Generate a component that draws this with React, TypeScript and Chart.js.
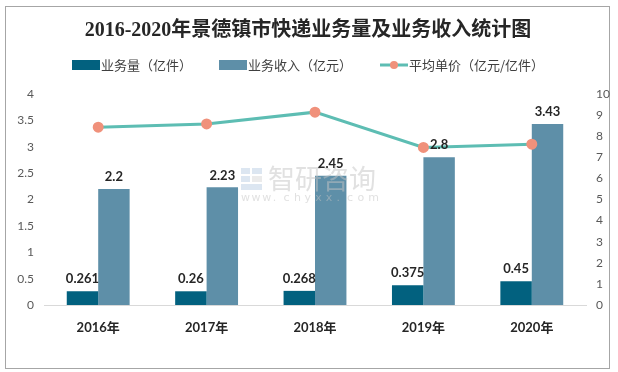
import React, { useEffect, useRef } from 'react';
import { Chart, registerables } from 'chart.js';

Chart.register(...registerables);

const titleText = '2016-2020年景德镇市快递业务量及业务收入统计图';
const categories = ['2016年', '2017年', '2018年', '2019年', '2020年'];
const volume = [0.261, 0.26, 0.268, 0.375, 0.45];
const revenue = [2.2, 2.23, 2.45, 2.8, 3.43];
const unitPrice = [8.43, 8.58, 9.14, 7.47, 7.62];
const seriesNames = ['业务量（亿件）', '业务收入（亿元）', '平均单价（亿元/亿件）'];
const leftAxisMax = 4;
const leftAxisStep = 0.5;
const rightAxisMax = 10;
const rightAxisStep = 1;

const DARK = '#02617f';
const LIGHT = '#5e8fa8';
const LINE = '#5dbdb3';
const POINT = '#f0917b';
const CJK = "'Noto Sans CJK SC', 'Noto Sans', sans-serif";

const decorPlugin = {
  id: 'decor',
  beforeDraw(chart: any) {
    const ctx = chart.ctx;
    ctx.save();
    ctx.fillStyle = '#ffffff';
    ctx.fillRect(0, 0, chart.width, chart.height);
    ctx.strokeStyle = '#a6a6a6';
    ctx.lineWidth = 1;
    ctx.strokeRect(5.5, 6.5, 604, 362);
    // title
    ctx.fillStyle = '#262626';
    ctx.font = "bold 20px 'Liberation Serif', 'Noto Sans CJK SC', serif";
    ctx.textAlign = 'center';
    ctx.textBaseline = 'middle';
    ctx.fillText(titleText, 308, 31);
    // legend
    ctx.font = `13px ${CJK}`;
    ctx.textAlign = 'left';
    const ly = 65;
    ctx.fillStyle = DARK;
    ctx.fillRect(72, ly - 5, 28, 10);
    ctx.fillStyle = '#404040';
    ctx.fillText(seriesNames[0], 101, ly);
    ctx.fillStyle = LIGHT;
    ctx.fillRect(219, ly - 5, 28, 10);
    ctx.fillStyle = '#404040';
    ctx.fillText(seriesNames[1], 248, ly);
    ctx.strokeStyle = LINE;
    ctx.lineWidth = 3;
    ctx.beginPath();
    ctx.moveTo(380, ly);
    ctx.lineTo(408, ly);
    ctx.stroke();
    ctx.fillStyle = POINT;
    ctx.beginPath();
    ctx.arc(394, ly, 4, 0, Math.PI * 2);
    ctx.fill();
    ctx.fillStyle = '#404040';
    ctx.fillText(seriesNames[2], 409, ly);
    ctx.restore();
  },
  afterDatasetsDraw(chart: any) {
    const ctx = chart.ctx;
    ctx.save();
    // watermark
    ctx.globalAlpha = 0.5;
    ctx.fillStyle = '#b9cde3';
    ctx.fillRect(241, 168, 9, 6);
    ctx.fillRect(252, 168, 10, 6);
    ctx.fillRect(241, 176, 9, 6);
    ctx.fillRect(241, 184, 21, 6);
    ctx.fillStyle = '#d8d8d8';
    ctx.fillRect(252, 176, 10, 6);
    ctx.fillStyle = '#c4c4c4';
    ctx.font = `27px ${CJK}`;
    ctx.textAlign = 'left';
    ctx.textBaseline = 'middle';
    ctx.fillText('智研咨询', 268, 179);
    ctx.font = "11px 'DejaVu Sans', sans-serif";
    const wm = 'www.chyxx.com';
    for (let i = 0; i < wm.length; i++) {
      ctx.fillText(wm[i], 241 + i * 10.6, 198);
    }
    ctx.globalAlpha = 1;
    // bar value labels
    ctx.fillStyle = '#262626';
    ctx.font = "bold 13px 'Lato', 'Liberation Sans', sans-serif";
    ctx.textAlign = 'center';
    ctx.textBaseline = 'middle';
    [0, 1].forEach((di) => {
      const meta = chart.getDatasetMeta(di);
      const data = chart.data.datasets[di].data as number[];
      meta.data.forEach((el: any, i: number) => {
        ctx.fillText(String(data[i]), el.x, el.y - 12);
      });
    });
    ctx.restore();
  },
};

export default function App() {
  const ref = useRef<HTMLCanvasElement | null>(null);
  useEffect(() => {
    if (!ref.current) return;
    const chart = new Chart(ref.current, {
      type: 'bar',
      data: {
        labels: categories,
        datasets: [
          {
            type: 'bar',
            label: seriesNames[0],
            data: volume,
            backgroundColor: DARK,
            yAxisID: 'y',
            order: 2,
            categoryPercentage: 0.58,
            barPercentage: 1,
          },
          {
            type: 'bar',
            label: seriesNames[1],
            data: revenue,
            backgroundColor: LIGHT,
            yAxisID: 'y',
            order: 2,
            categoryPercentage: 0.58,
            barPercentage: 1,
          },
          {
            type: 'line',
            label: seriesNames[2],
            data: unitPrice,
            borderColor: LINE,
            borderWidth: 3,
            backgroundColor: POINT,
            pointBackgroundColor: POINT,
            pointBorderColor: POINT,
            pointRadius: 4,
            tension: 0,
            yAxisID: 'y1',
            order: 0,
          },
        ] as any,
      },
      options: {
        animation: false,
        responsive: true,
        maintainAspectRatio: false,
        layout: { padding: { top: 94, left: 0, right: 0, bottom: 0 } },
        plugins: {
          legend: { display: false },
          title: { display: false },
          tooltip: { enabled: false },
        },
        scales: {
          x: {
            grid: { display: false, drawTicks: false },
            border: { display: true, color: '#d9d9d9', width: 1 },
            ticks: {
              color: '#262626',
              font: { family: "'Lato', 'Noto Sans CJK SC', sans-serif", size: 13, weight: 'bold' },
              padding: 15,
            },
            afterFit(scale: any) {
              scale.height = 67;
            },
          },
          y: {
            position: 'left',
            min: 0,
            max: leftAxisMax,
            grid: { display: false, drawTicks: false },
            border: { display: false },
            ticks: {
              stepSize: leftAxisStep,
              color: '#595959',
              font: { family: "'Lato', 'Liberation Sans', sans-serif", size: 12 },
              padding: 10,
              callback: (v: any) => String(Number(v)),
            },
            afterFit(scale: any) {
              scale.width = 44;
            },
          },
          y1: {
            position: 'right',
            min: 0,
            max: rightAxisMax,
            grid: { display: false, drawTicks: false },
            border: { display: false },
            ticks: {
              stepSize: rightAxisStep,
              color: '#595959',
              font: { family: "'Lato', 'Liberation Sans', sans-serif", size: 12 },
              padding: 10,
              callback: (v: any) => String(Number(v)),
            },
            afterFit(scale: any) {
              scale.width = 32;
            },
          },
        },
      } as any,
      plugins: [decorPlugin],
    });
    return () => chart.destroy();
  }, []);
  return (
    <div style={{ position: 'fixed', left: 0, top: 0, width: 618, height: 372 }}>
      <canvas ref={ref} />
    </div>
  );
}
